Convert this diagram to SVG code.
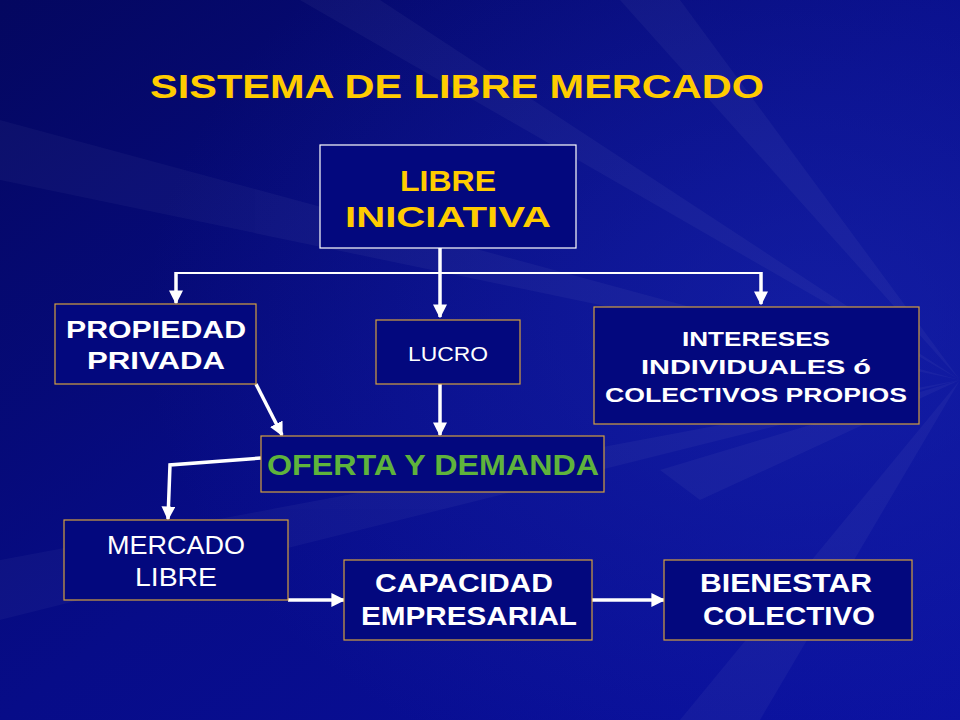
<svg xmlns="http://www.w3.org/2000/svg" width="960" height="720" viewBox="0 0 960 720">
<defs>
<linearGradient id="bg" x1="0" y1="0" x2="1" y2="1">
<stop offset="0" stop-color="#040760"/>
<stop offset="0.5" stop-color="#070c88"/>
<stop offset="1" stop-color="#0a10a0"/>
</linearGradient>
<radialGradient id="glow" cx="0.85" cy="0.45" r="0.7">
<stop offset="0" stop-color="#2030b8" stop-opacity="0.45"/>
<stop offset="1" stop-color="#2030b8" stop-opacity="0"/>
</radialGradient>
<marker id="ah" viewBox="0 0 10 10" refX="9" refY="5" markerWidth="4" markerHeight="4" orient="auto">
<path d="M0,0 L10,5 L0,10 z" fill="#ffffff"/>
</marker>
</defs>
<style>
.box{fill:#03087e;stroke:#d4a040;stroke-width:1.2}
.boxw{fill:#03087e;stroke:#ffffff;stroke-width:1.2}
.t{font-family:"Liberation Sans",Arial,sans-serif;text-anchor:middle}
.b{font-weight:bold}
.w{fill:#ffffff}
.y{fill:#ffcc00}
.g{fill:#5fb33c}
.c{stroke:#ffffff;fill:none}
</style>
<rect width="960" height="720" fill="url(#bg)"/>
<rect width="960" height="720" fill="url(#glow)"/>
<g opacity="0.035" fill="#ffffff">
<polygon points="960,380 0,120 0,180"/>
<polygon points="960,380 300,0 380,0"/>
<polygon points="960,380 620,0 680,0"/>
<polygon points="960,380 0,560 0,620"/>
<polygon points="960,380 680,720 760,720"/>
<polygon points="960,380 660,470 700,500"/>
</g>

<text class="t b y" x="457" y="98" font-size="33" textLength="614" lengthAdjust="spacingAndGlyphs">SISTEMA DE LIBRE MERCADO</text>

<g id="connectors">
<line class="c" x1="176" y1="273" x2="762" y2="273" stroke-width="2"/>
<line class="c" x1="440" y1="248" x2="440" y2="317" stroke-width="3.5" marker-end="url(#ah)"/>
<line class="c" x1="176" y1="272" x2="176" y2="303" stroke-width="3.5" marker-end="url(#ah)"/>
<line class="c" x1="761" y1="272" x2="761" y2="304" stroke-width="3.5" marker-end="url(#ah)"/>
<line class="c" x1="256" y1="384" x2="282" y2="435" stroke-width="3.5" marker-end="url(#ah)"/>
<line class="c" x1="440" y1="384" x2="440" y2="435" stroke-width="3.5" marker-end="url(#ah)"/>
<polyline class="c" points="261,458 170,465 168,519" stroke-width="3.5" marker-end="url(#ah)"/>
<line class="c" x1="288" y1="600" x2="344" y2="600" stroke-width="3.5" marker-end="url(#ah)"/>
<line class="c" x1="592" y1="600" x2="664" y2="600" stroke-width="3.5" marker-end="url(#ah)"/>
</g>

<g id="libre-iniciativa">
<rect class="boxw" x="320" y="145" width="256" height="103"/>
<text class="t b y" x="448" y="191" font-size="29" textLength="96" lengthAdjust="spacingAndGlyphs">LIBRE</text>
<text class="t b y" x="448" y="227" font-size="29" textLength="206" lengthAdjust="spacingAndGlyphs">INICIATIVA</text>
</g>

<g id="propiedad-privada">
<rect class="box" x="55" y="304" width="201" height="80"/>
<text class="t b w" x="156" y="338" font-size="24" textLength="180" lengthAdjust="spacingAndGlyphs">PROPIEDAD</text>
<text class="t b w" x="156" y="369" font-size="24" textLength="138" lengthAdjust="spacingAndGlyphs">PRIVADA</text>
</g>

<g id="lucro">
<rect class="box" x="376" y="320" width="144" height="64"/>
<text class="t w" x="448" y="361" font-size="20" textLength="80" lengthAdjust="spacingAndGlyphs">LUCRO</text>
</g>

<g id="intereses">
<rect class="box" x="594" y="307" width="325" height="117"/>
<text class="t b w" x="756" y="346" font-size="21" textLength="148" lengthAdjust="spacingAndGlyphs">INTERESES</text>
<text class="t b w" x="756" y="374" font-size="21" textLength="230" lengthAdjust="spacingAndGlyphs">INDIVIDUALES ó</text>
<text class="t b w" x="756" y="402" font-size="21" textLength="302" lengthAdjust="spacingAndGlyphs">COLECTIVOS PROPIOS</text>
</g>

<g id="oferta-demanda">
<rect class="box" x="261" y="436" width="343" height="56"/>
<text class="t b g" x="433" y="475" font-size="29" textLength="332" lengthAdjust="spacingAndGlyphs">OFERTA Y DEMANDA</text>
</g>

<g id="mercado-libre">
<rect class="box" x="64" y="520" width="224" height="80"/>
<text class="t w" x="176" y="554" font-size="25" textLength="138" lengthAdjust="spacingAndGlyphs">MERCADO</text>
<text class="t w" x="176" y="586" font-size="25" textLength="82" lengthAdjust="spacingAndGlyphs">LIBRE</text>
</g>

<g id="capacidad-empresarial">
<rect class="box" x="344" y="560" width="248" height="80"/>
<text class="t b w" x="464" y="592" font-size="25" textLength="178" lengthAdjust="spacingAndGlyphs">CAPACIDAD</text>
<text class="t b w" x="469" y="625" font-size="25" textLength="216" lengthAdjust="spacingAndGlyphs">EMPRESARIAL</text>
</g>

<g id="bienestar-colectivo">
<rect class="box" x="664" y="560" width="248" height="80"/>
<text class="t b w" x="786" y="592" font-size="25" textLength="172" lengthAdjust="spacingAndGlyphs">BIENESTAR</text>
<text class="t b w" x="789" y="625" font-size="25" textLength="172" lengthAdjust="spacingAndGlyphs">COLECTIVO</text>
</g>
</svg>
